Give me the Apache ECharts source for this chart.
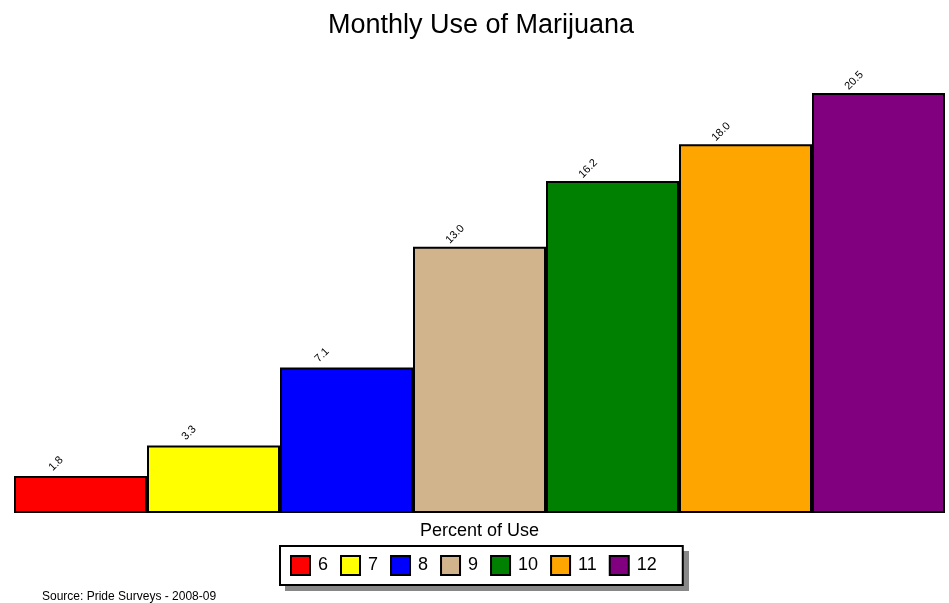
<!DOCTYPE html>
<html><head><meta charset="utf-8">
<script src="https://cdn.jsdelivr.net/npm/echarts@6/dist/echarts.min.js"></script>
<style>html,body{margin:0;padding:0;background:#fff}#c{width:949px;height:603px}</style>
</head><body><div id="c"></div>
<script>
const categories = ['6','7','8','9','10','11','12'];
const values = [1.8, 3.3, 7.1, 13.0, 16.2, 18.0, 20.5];
const colors = ['#ff0000','#ffff00','#0000ff','#d2b48c','#008000','#ffa500','#800080'];
const titleText = 'Monthly Use of Marijuana';
const axisName = 'Percent of Use';
const sourceText = 'Source: Pride Surveys - 2008-09';

const FONT = '"Liberation Sans", Arial, sans-serif';
const series = categories.map((c, i) => ({
  name: c,
  type: 'bar',
  stack: 'all',
  barWidth: '100%',
  data: categories.map((_, j) => j === i ? values[i] : null),
  itemStyle: { color: colors[i], borderColor: '#000', borderWidth: 2 },
  label: {
    show: true, position: 'top', rotate: 45, offset: [-12, -17],
    fontFamily: FONT, fontSize: 11, color: '#000',
    formatter: p => p.value == null ? '' : Number(p.value).toFixed(1)
  }
}));

const chart = echarts.init(document.getElementById('c'));
chart.setOption({
  animation: false,
  textStyle: { fontFamily: FONT },
  title: { text: titleText, left: 323, top: 7,
    textStyle: { fontFamily: FONT, fontSize: 27, fontWeight: 'normal', color: '#000' } },
  grid: { left: 14, right: 4, top: 93, bottom: 90 },
  xAxis: { type: 'category', data: categories, name: axisName, nameLocation: 'middle', nameGap: 9,
    nameTextStyle: { fontFamily: FONT, fontSize: 18, color: '#000', verticalAlign: 'top' },
    axisLabel: { show: false }, axisTick: { show: false },
    axisLine: { show: false } },
  yAxis: { type: 'value', min: 0, max: 20.5, show: false, splitLine: { show: false } },
  legend: {
    data: categories, left: 280, top: 546, orient: 'horizontal', z: 10,
    icon: 'rect', itemWidth: 19, itemHeight: 19, itemGap: 12,
    padding: [9, 26, 9, 10],
    backgroundColor: '#fff', borderColor: '#000', borderWidth: 2,
    textStyle: { fontFamily: FONT, fontSize: 18, color: '#000', padding: [0, 0, 0, 3] }
  },
  graphic: [
    { type: 'rect', z: 1, left: 285, top: 551, shape: { width: 404, height: 40 }, style: { fill: '#888' } },
    { type: 'text', left: 42, top: 591,
      style: { text: sourceText, font: '12px ' + FONT, fill: '#000' } }],
  series: series
});
</script></body></html>
